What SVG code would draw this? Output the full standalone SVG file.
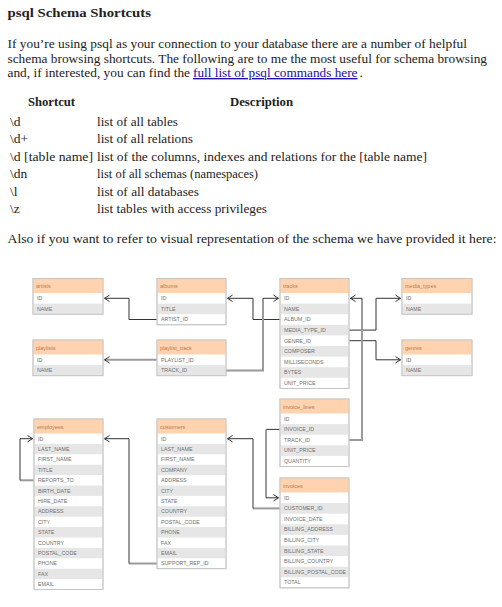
<svg xmlns="http://www.w3.org/2000/svg" width="502" height="607" viewBox="0 0 502 607">
<style>
.tx{font-family:"Liberation Serif","Times New Roman",serif;font-size:13.5px;fill:#222}
.b{font-weight:bold}
.lk{fill:#1a0dab;text-decoration:underline}
.bx{fill:#fff;stroke:#c2c2c2;stroke-width:0.8}
.hd{fill:#ffd3af}
.gr{fill:#e6e6e6}
.ht{font-family:"Liberation Sans",Arial,sans-serif;font-size:5.5px;fill:#b87a4e}
.rt{font-family:"Liberation Sans",Arial,sans-serif;font-size:5.3px;fill:#6e6e6e}
.dk{fill:none;stroke:#333;stroke-width:1}
.gy{fill:none;stroke:#9a9a9a;stroke-width:2}
</style>
<defs>
<marker id="arr" markerUnits="userSpaceOnUse" viewBox="0 0 6 8" refX="5.5" refY="4" markerWidth="6" markerHeight="8" orient="auto"><path d="M0.5,0.8 L5.5,4 L0.5,7.2" fill="none" stroke="#333" stroke-width="1"/></marker>
</defs>
<rect width="502" height="607" fill="#fff"/>

<g id="intro">
<text class="tx b" x="7.5" y="16.5" textLength="143.5" lengthAdjust="spacingAndGlyphs">psql Schema Shortcuts</text>
<text class="tx" x="7.5" y="48" textLength="459.5" lengthAdjust="spacingAndGlyphs">If you’re using psql as your connection to your database there are a number of helpful</text>
<text class="tx" x="7.5" y="62.5" textLength="479.5" lengthAdjust="spacingAndGlyphs">schema browsing shortcuts. The following are to me the most useful for schema browsing</text>
<text class="tx" x="7.5" y="77" textLength="182.5" lengthAdjust="spacingAndGlyphs">and, if interested, you can find the</text>
<text class="tx lk" x="193" y="77" textLength="164.5" lengthAdjust="spacingAndGlyphs">full list of psql commands here</text>
<text class="tx" x="359.5" y="77">.</text>
</g>

<g id="shortcuts">
<text class="tx b" x="28" y="106" textLength="47" lengthAdjust="spacingAndGlyphs">Shortcut</text>
<text class="tx b" x="230" y="106" textLength="63" lengthAdjust="spacingAndGlyphs">Description</text>
<text class="tx" x="10" y="125.5">\d</text>
<text class="tx" x="97" y="125.5" textLength="81" lengthAdjust="spacingAndGlyphs">list of all tables</text>
<text class="tx" x="10" y="143">\d+</text>
<text class="tx" x="97" y="143" textLength="96" lengthAdjust="spacingAndGlyphs">list of all relations</text>
<text class="tx" x="10" y="160.5" textLength="83" lengthAdjust="spacingAndGlyphs">\d [table name]</text>
<text class="tx" x="97" y="160.5" textLength="330" lengthAdjust="spacingAndGlyphs">list of the columns, indexes and relations for the [table name]</text>
<text class="tx" x="10" y="178">\dn</text>
<text class="tx" x="97" y="178" textLength="161" lengthAdjust="spacingAndGlyphs">list of all schemas (namespaces)</text>
<text class="tx" x="10" y="195.5">\l</text>
<text class="tx" x="97" y="195.5" textLength="102" lengthAdjust="spacingAndGlyphs">list of all databases</text>
<text class="tx" x="10" y="213">\z</text>
<text class="tx" x="97" y="213" textLength="170" lengthAdjust="spacingAndGlyphs">list tables with access privileges</text>
<text class="tx" x="7.5" y="243" textLength="489" lengthAdjust="spacingAndGlyphs">Also if you want to refer to visual representation of the schema we have provided it here:</text>
</g>

<g id="connectors">
<path class="dk" d="M157,319.5 H129 V298.3 H104.5" marker-end="url(#arr)"/>
<path class="dk" d="M280,319.5 H253 V298.3 H227.5" marker-end="url(#arr)"/>
<path class="gy" d="M157,359.8 H106"/>
<path class="dk" d="M106,359.8 H104.5" marker-end="url(#arr)"/>
<path class="gy" d="M226,370.4 H263 V298.3"/>
<path class="dk" d="M263,298.3 H278.5" marker-end="url(#arr)"/>
<path class="dk" d="M349,330.1 H376 V298.3 H400.5" marker-end="url(#arr)"/>
<path class="dk" d="M349,340.7 H376 V359.8 H400.5" marker-end="url(#arr)"/>
<path class="gy" d="M349,440 H362 V298.3"/>
<path class="dk" d="M362,298.3 H350.5" marker-end="url(#arr)"/>
<path class="dk" d="M280,429.4 H266"/>
<path class="gy" d="M266,429.4 V497.8"/>
<path class="dk" d="M266,497.8 H278.5" marker-end="url(#arr)"/>
<path class="gy" d="M280,508.4 H253"/>
<path class="dk" d="M253,508.4 V438.7 H227.5" marker-end="url(#arr)"/>
<path class="gy" d="M157,563.5 H129"/>
<path class="dk" d="M129,563.5 V438.7 H104.5" marker-end="url(#arr)"/>
<path class="gy" d="M34,480.3 H20"/>
<path class="dk" d="M20,480.3 V438.7 H32.5" marker-end="url(#arr)"/>
</g>

<g id="artists">
<rect class="bx" x="33" y="278.5" width="70" height="35.7"/>
<rect class="hd" x="33" y="278.5" width="70" height="14.5"/>
<rect class="gr" x="33" y="303.6" width="70" height="10.6"/>
<rect class="bx" x="33" y="278.5" width="70" height="35.7" style="fill:none"/>
<text class="ht" x="36" y="288">artists</text>
<text class="rt" x="37" y="300.1">ID</text>
<text class="rt" x="37" y="310.7">NAME</text>
</g>

<g id="albums">
<rect class="bx" x="157" y="278.5" width="69" height="46.3"/>
<rect class="hd" x="157" y="278.5" width="69" height="14.5"/>
<rect class="gr" x="157" y="303.6" width="69" height="10.6"/>
<rect class="bx" x="157" y="278.5" width="69" height="46.3" style="fill:none"/>
<text class="ht" x="160" y="288">albums</text>
<text class="rt" x="161" y="300.1">ID</text>
<text class="rt" x="161" y="310.7">TITLE</text>
<text class="rt" x="161" y="321.3">ARTIST_ID</text>
</g>

<g id="tracks">
<rect class="bx" x="280" y="278.5" width="69" height="109.9"/>
<rect class="hd" x="280" y="278.5" width="69" height="14.5"/>
<rect class="gr" x="280" y="303.6" width="69" height="10.6"/>
<rect class="gr" x="280" y="324.8" width="69" height="10.6"/>
<rect class="gr" x="280" y="346" width="69" height="10.6"/>
<rect class="gr" x="280" y="367.2" width="69" height="10.6"/>
<rect class="bx" x="280" y="278.5" width="69" height="109.9" style="fill:none"/>
<text class="ht" x="283" y="288">tracks</text>
<text class="rt" x="284" y="300.1">ID</text>
<text class="rt" x="284" y="310.7">NAME</text>
<text class="rt" x="284" y="321.3">ALBUM_ID</text>
<text class="rt" x="284" y="331.9">MEDIA_TYPE_ID</text>
<text class="rt" x="284" y="342.5">GENRE_ID</text>
<text class="rt" x="284" y="353.1">COMPOSER</text>
<text class="rt" x="284" y="363.7">MILLISECONDS</text>
<text class="rt" x="284" y="374.3">BYTES</text>
<text class="rt" x="284" y="384.9">UNIT_PRICE</text>
</g>

<g id="media_types">
<rect class="bx" x="402" y="278.5" width="70" height="35.7"/>
<rect class="hd" x="402" y="278.5" width="70" height="14.5"/>
<rect class="gr" x="402" y="303.6" width="70" height="10.6"/>
<rect class="bx" x="402" y="278.5" width="70" height="35.7" style="fill:none"/>
<text class="ht" x="405" y="288">media_types</text>
<text class="rt" x="406" y="300.1">ID</text>
<text class="rt" x="406" y="310.7">NAME</text>
</g>

<g id="playlists">
<rect class="bx" x="33" y="340" width="70" height="35.7"/>
<rect class="hd" x="33" y="340" width="70" height="14.5"/>
<rect class="gr" x="33" y="365.1" width="70" height="10.6"/>
<rect class="bx" x="33" y="340" width="70" height="35.7" style="fill:none"/>
<text class="ht" x="36" y="349.5">playlists</text>
<text class="rt" x="37" y="361.6">ID</text>
<text class="rt" x="37" y="372.2">NAME</text>
</g>

<g id="playlist_track">
<rect class="bx" x="157" y="340" width="69" height="35.7"/>
<rect class="hd" x="157" y="340" width="69" height="14.5"/>
<rect class="gr" x="157" y="365.1" width="69" height="10.6"/>
<rect class="bx" x="157" y="340" width="69" height="35.7" style="fill:none"/>
<text class="ht" x="160" y="349.5">playlist_track</text>
<text class="rt" x="161" y="361.6">PLAYLIST_ID</text>
<text class="rt" x="161" y="372.2">TRACK_ID</text>
</g>

<g id="genres">
<rect class="bx" x="402" y="340" width="70" height="35.7"/>
<rect class="hd" x="402" y="340" width="70" height="14.5"/>
<rect class="gr" x="402" y="365.1" width="70" height="10.6"/>
<rect class="bx" x="402" y="340" width="70" height="35.7" style="fill:none"/>
<text class="ht" x="405" y="349.5">genres</text>
<text class="rt" x="406" y="361.6">ID</text>
<text class="rt" x="406" y="372.2">NAME</text>
</g>

<g id="invoice_lines">
<rect class="bx" x="280" y="399" width="69" height="67.5"/>
<rect class="hd" x="280" y="399" width="69" height="14.5"/>
<rect class="gr" x="280" y="424.1" width="69" height="10.6"/>
<rect class="gr" x="280" y="445.3" width="69" height="10.6"/>
<rect class="bx" x="280" y="399" width="69" height="67.5" style="fill:none"/>
<text class="ht" x="283" y="408.5">invoice_lines</text>
<text class="rt" x="284" y="420.6">ID</text>
<text class="rt" x="284" y="431.2">INVOICE_ID</text>
<text class="rt" x="284" y="441.8">TRACK_ID</text>
<text class="rt" x="284" y="452.4">UNIT_PRICE</text>
<text class="rt" x="284" y="463">QUANTITY</text>
</g>

<g id="invoices">
<rect class="bx" x="280" y="478" width="69" height="109.9"/>
<rect class="hd" x="280" y="478" width="69" height="14.5"/>
<rect class="gr" x="280" y="503.1" width="69" height="10.6"/>
<rect class="gr" x="280" y="524.3" width="69" height="10.6"/>
<rect class="gr" x="280" y="545.5" width="69" height="10.6"/>
<rect class="gr" x="280" y="566.7" width="69" height="10.6"/>
<rect class="bx" x="280" y="478" width="69" height="109.9" style="fill:none"/>
<text class="ht" x="283" y="487.5">invoices</text>
<text class="rt" x="284" y="499.6">ID</text>
<text class="rt" x="284" y="510.2">CUSTOMER_ID</text>
<text class="rt" x="284" y="520.8">INVOICE_DATE</text>
<text class="rt" x="284" y="531.4">BILLING_ADDRESS</text>
<text class="rt" x="284" y="542">BILLING_CITY</text>
<text class="rt" x="284" y="552.6">BILLING_STATE</text>
<text class="rt" x="284" y="563.2">BILLING_COUNTRY</text>
<text class="rt" x="284" y="573.8">BILLING_POSTAL_CODE</text>
<text class="rt" x="284" y="584.4">TOTAL</text>
</g>

<g id="employees">
<rect class="bx" x="34" y="419" width="69" height="170.5"/>
<rect class="hd" x="34" y="419" width="69" height="14.5"/>
<rect class="gr" x="34" y="443.9" width="69" height="10.4"/>
<rect class="gr" x="34" y="464.7" width="69" height="10.4"/>
<rect class="gr" x="34" y="485.5" width="69" height="10.4"/>
<rect class="gr" x="34" y="506.3" width="69" height="10.4"/>
<rect class="gr" x="34" y="527.1" width="69" height="10.4"/>
<rect class="gr" x="34" y="547.9" width="69" height="10.4"/>
<rect class="gr" x="34" y="568.7" width="69" height="10.4"/>
<rect class="bx" x="34" y="419" width="69" height="170.5" style="fill:none"/>
<text class="ht" x="37" y="428.5">employees</text>
<text class="rt" x="38" y="440.5">ID</text>
<text class="rt" x="38" y="450.9">LAST_NAME</text>
<text class="rt" x="38" y="461.3">FIRST_NAME</text>
<text class="rt" x="38" y="471.7">TITLE</text>
<text class="rt" x="38" y="482.1">REPORTS_TO</text>
<text class="rt" x="38" y="492.5">BIRTH_DATE</text>
<text class="rt" x="38" y="502.9">HIRE_DATE</text>
<text class="rt" x="38" y="513.3">ADDRESS</text>
<text class="rt" x="38" y="523.7">CITY</text>
<text class="rt" x="38" y="534.1">STATE</text>
<text class="rt" x="38" y="544.5">COUNTRY</text>
<text class="rt" x="38" y="554.9">POSTAL_CODE</text>
<text class="rt" x="38" y="565.3">PHONE</text>
<text class="rt" x="38" y="575.7">FAX</text>
<text class="rt" x="38" y="586.1">EMAIL</text>
</g>

<g id="customers">
<rect class="bx" x="157" y="419" width="69" height="149.7"/>
<rect class="hd" x="157" y="419" width="69" height="14.5"/>
<rect class="gr" x="157" y="443.9" width="69" height="10.4"/>
<rect class="gr" x="157" y="464.7" width="69" height="10.4"/>
<rect class="gr" x="157" y="485.5" width="69" height="10.4"/>
<rect class="gr" x="157" y="506.3" width="69" height="10.4"/>
<rect class="gr" x="157" y="527.1" width="69" height="10.4"/>
<rect class="gr" x="157" y="547.9" width="69" height="10.4"/>
<rect class="bx" x="157" y="419" width="69" height="149.7" style="fill:none"/>
<text class="ht" x="160" y="428.5">customers</text>
<text class="rt" x="161" y="440.5">ID</text>
<text class="rt" x="161" y="450.9">LAST_NAME</text>
<text class="rt" x="161" y="461.3">FIRST_NAME</text>
<text class="rt" x="161" y="471.7">COMPANY</text>
<text class="rt" x="161" y="482.1">ADDRESS</text>
<text class="rt" x="161" y="492.5">CITY</text>
<text class="rt" x="161" y="502.9">STATE</text>
<text class="rt" x="161" y="513.3">COUNTRY</text>
<text class="rt" x="161" y="523.7">POSTAL_CODE</text>
<text class="rt" x="161" y="534.1">PHONE</text>
<text class="rt" x="161" y="544.5">FAX</text>
<text class="rt" x="161" y="554.9">EMAIL</text>
<text class="rt" x="161" y="565.3">SUPPORT_REP_ID</text>
</g>
</svg>
